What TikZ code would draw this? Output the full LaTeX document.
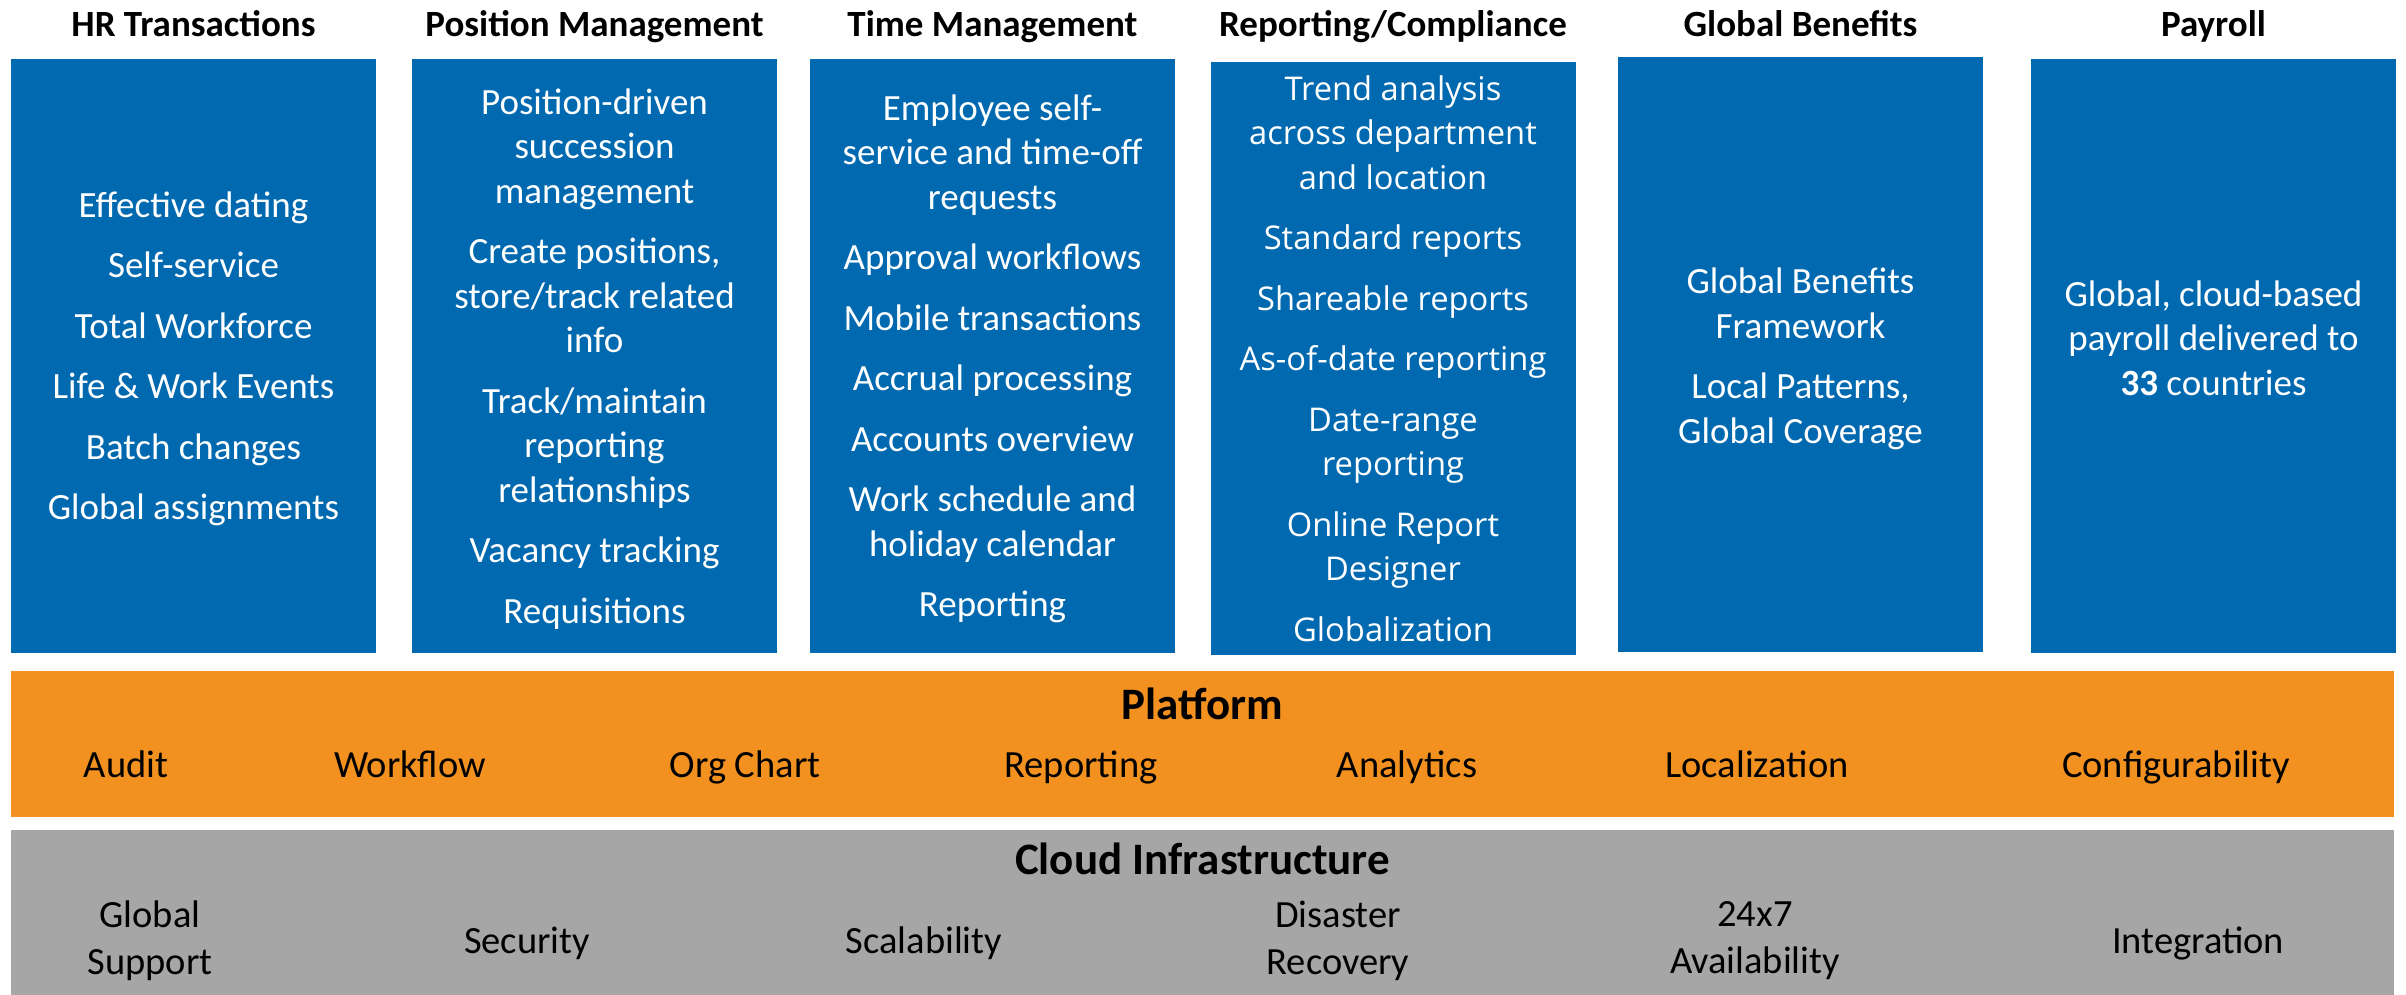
\documentclass[tikz,border=0pt]{standalone}
\usepackage{fontspec}
\setmainfont{Carlito}
\newfontfamily\osans{Open Sans}
\definecolor{sfblue}{HTML}{0069B0}
\definecolor{sforange}{HTML}{F29120}
\definecolor{sfgray}{HTML}{A6A6A6}
\tikzset{
  colbox/.style={fill=sfblue, draw=none, inner sep=0pt,
    minimum width=365pt, minimum height=594pt},
  coltext/.style={text=white, align=center, inner sep=0pt,
    font=\fontsize{37}{44.5}\selectfont},
  coltitle/.style={anchor=base, inner sep=0pt, font=\fontsize{37}{44}\selectfont\bfseries},
  bandbox/.style={draw=none, inner sep=0pt, anchor=north west, minimum width=2383pt},
  bandtitle/.style={anchor=base, inner sep=0pt, font=\fontsize{45}{50}\selectfont\bfseries},
  banditem/.style={inner sep=0pt, align=center, font=\fontsize{38.5}{47}\selectfont},
}
\begin{document}
\begin{tikzpicture}[x=1pt,y=-1pt]
\useasboundingbox (0,0) rectangle (2406,995);

% column titles
\node[coltitle] (t1) at (193.5,37) {HR Transactions};
\node[coltitle] (t2) at (594.5,37) {Position Management};
\node[coltitle] (t3) at (992.5,37) {Time Management};
\node[coltitle] (t4) at (1393,37) {Reporting/Compliance};
\node[coltitle] (t5) at (1800.5,37) {Global Benefits};
\node[coltitle] (t6) at (2213.5,37) {Payroll};

% column boxes
\node[colbox] (hr) at (193.5,356) {};
\node[colbox] (pm) at (594.5,356) {};
\node[colbox] (tm) at (992.5,356) {};
\node[colbox, minimum height=593pt] (rc) at (1393,358.5) {};
\node[colbox] (gb) at (1800.5,354.5) {};
\node[colbox] (pr) at (2213.5,356) {};

% column texts
\node[coltext] (hrtext) at (193.5,359) {Effective dating\\[16pt]Self-service\\[16pt]Total Workforce\\[16pt]Life \& Work Events\\[16pt]Batch changes\\[16pt]Global assignments};
\node[coltext] (pmtext) at (594.5,359) {Position-driven\\succession\\management\\[16pt]Create positions,\\store/track related\\info\\[16pt]Track/maintain\\reporting\\relationships\\[16pt]Vacancy tracking\\[16pt]Requisitions};
\node[coltext] (tmtext) at (992.5,359) {Employee self-\\service and time-off\\requests\\[16pt]Approval workflows\\[16pt]Mobile transactions\\[16pt]Accrual processing\\[16pt]Accounts overview\\[16pt]Work schedule and\\holiday calendar\\[16pt]Reporting};
\node[coltext, font=\osans\fontsize{32.7}{44.5}\selectfont] (rctext) at (1393,358.5) {Trend analysis\\across department\\and location\\[16pt]Standard reports\\[16pt]Shareable reports\\[16pt]As-of-date reporting\\[16pt]Date-range\\reporting\\[16pt]Online Report\\Designer\\[16pt]Globalization};
\node[coltext] (gbtext) at (1800.5,359) {Global Benefits\\Framework\\[16pt]Local Patterns,\\Global Coverage};
\node[coltext] (prtext) at (2213.5,338) {Global, cloud-based\\payroll delivered to\\\textbf{33} countries};

% platform band
\node[bandbox, fill=sforange, minimum height=146pt] (platform) at (11,671) {};
\node[bandtitle] (platformtitle) at (1202.5,719) {Platform};
\node[banditem, anchor=base] (p1) at (126,777) {Audit};
\node[banditem, anchor=base] (p2) at (410,777) {Workflow};
\node[banditem, anchor=base] (p3) at (745,777) {Org Chart};
\node[banditem, anchor=base] (p4) at (1081,777) {Reporting};
\node[banditem, anchor=base] (p5) at (1407,777) {Analytics};
\node[banditem, anchor=base] (p6) at (1757,777) {Localization};
\node[banditem, anchor=base] (p7) at (2176,777) {Configurability};

% cloud band
\node[bandbox, fill=sfgray, minimum height=165pt] (cloud) at (11,830) {};
\node[bandtitle] (cloudtitle) at (1202.5,874) {Cloud Infrastructure};
\node[banditem] (c1) at (150,941) {Global\\Support};
\node[banditem, anchor=base] (c2) at (527,953) {Security};
\node[banditem, anchor=base] (c3) at (924,953) {Scalability};
\node[banditem] (c4) at (1338,941) {Disaster\\Recovery};
\node[banditem] (c5) at (1755,941) {24x7\\Availability};
\node[banditem, anchor=base] (c6) at (2198,953) {Integration};
\end{tikzpicture}
\end{document}
